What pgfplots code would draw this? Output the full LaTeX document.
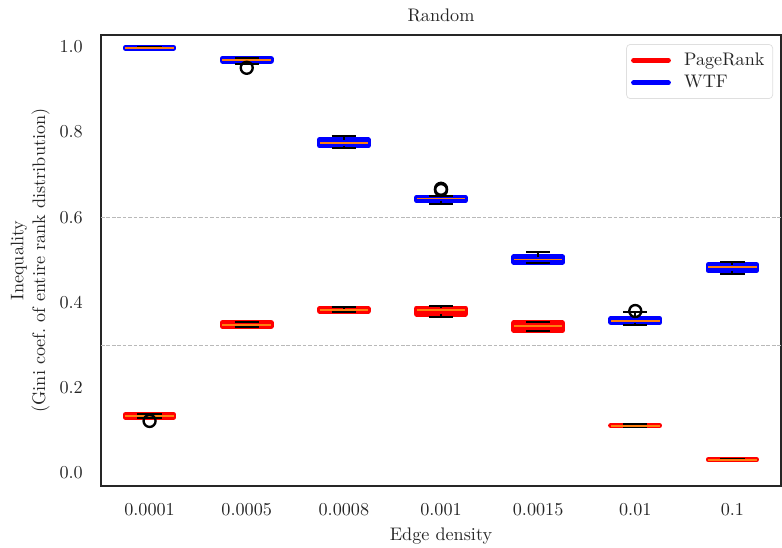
\documentclass[border=0pt]{standalone}
\usepackage{pgfplots}
\pgfplotsset{compat=1.18}
\usepgfplotslibrary{statistics}
\definecolor{axgray}{RGB}{38,38,38}
\definecolor{medorange}{RGB}{255,127,14}
\definecolor{prred}{RGB}{255,0,0}
\definecolor{wtfblue}{RGB}{0,0,255}
\pgfplotsset{
  % pass 1: the filled box only
  bxa/.style n args={7}{
    mark=none,
    boxplot prepared={draw direction=y, draw position=#2, lower whisker=#3, lower quartile=#4,
      median=#5, upper quartile=#6, upper whisker=#7,
      box extend=0.5, whisker extend=0.25,
      every box/.style={draw=#1, fill=#1, line width=2.8pt, line join=round},
      every whisker/.style={draw=none},
      every median/.style={draw=none}},
  },
  % pass 2: whiskers, median, outliers on top
  bxb/.style n args={6}{
    mark=o, mark size=3.3pt, mark options={draw=black, line width=1.3pt, fill=none},
    boxplot prepared={draw direction=y, draw position=#1, lower whisker=#2, lower quartile=#3,
      median=#4, upper quartile=#5, upper whisker=#6,
      box extend=0.5, whisker extend=0.25,
      every box/.style={draw=none, fill=none},
      every whisker/.style={draw=black, line width=1.1pt},
      every median/.style={draw=medorange, line width=1pt}},
  },
}
\begin{document}
\begin{tikzpicture}
\begin{axis}[
  scale only axis,
  width=374pt, height=248pt,
  xmin=0.5, xmax=7.5,
  ymin=-0.0305, ymax=1.028,
  axis line style={draw=axgray, line width=1.1pt},
  major tick length=0pt,
  xtick={1,2,3,4,5,6,7},
  xticklabels={0.0001,0.0005,0.0008,0.001,0.0015,0.01,0.1},
  ytick={0,0.2,0.4,0.6,0.8,1.0},
  yticklabel style={xshift=-6.5pt, /pgf/number format/.cd, fixed, fixed zerofill, precision=1},
  xticklabel style={yshift=-6pt},
  tick label style={text=axgray},
  extra y ticks={0.3,0.6},
  extra y tick labels={},
  extra y tick style={grid=major, major grid style={gray!55, line width=0.5pt, dash pattern=on 2pt off 1pt}},
  title={Random},
  title style={text=axgray, yshift=-2.2pt},
  xlabel={Edge density},
  ylabel={Inequality\\(Gini coef.\ of entire rank distribution)},
  ylabel style={align=center, text=axgray, yshift=-1.5pt},
  xlabel style={text=axgray},
  legend style={at={(1,1)}, anchor=north east, xshift=-4.4pt, yshift=-5pt,
    draw=gray!25, rounded corners=2pt, text=axgray, row sep=0pt, inner sep=2.5pt},
  legend cell align=left,
]
\addlegendimage{legend image code/.code={\draw[prred, line width=2.8pt, line cap=round] (0cm,0cm) -- (0.67cm,0cm); \path (0.67cm+6.5pt,0cm);}}
\addlegendentry{PageRank}
\addlegendimage{legend image code/.code={\draw[wtfblue, line width=2.8pt, line cap=round] (0cm,0cm) -- (0.67cm,0cm); \path (0.67cm+6.5pt,0cm);}}
\addlegendentry{WTF}
% PageRank boxes
\addplot[bxa={prred}{1}{0.129}{0.131}{0.134}{0.137}{0.138}] coordinates {};
\addplot[bxa={prred}{2}{0.342}{0.344}{0.348}{0.353}{0.355}] coordinates {};
\addplot[bxa={prred}{3}{0.377}{0.380}{0.382}{0.385}{0.390}] coordinates {};
\addplot[bxa={prred}{4}{0.365}{0.373}{0.383}{0.387}{0.391}] coordinates {};
\addplot[bxa={prred}{5}{0.332}{0.335}{0.344}{0.352}{0.354}] coordinates {};
\addplot[bxa={prred}{6}{0.1075}{0.1105}{0.111}{0.112}{0.116}] coordinates {};
\addplot[bxa={prred}{7}{0.0298}{0.0305}{0.0312}{0.0318}{0.0336}] coordinates {};
% PageRank whiskers, medians, outliers
\addplot[bxb={1}{0.129}{0.131}{0.134}{0.137}{0.138}] table[row sep=\\, y index=0] {data\\ 0.122\\};
\addplot[bxb={2}{0.342}{0.344}{0.348}{0.353}{0.355}] coordinates {};
\addplot[bxb={3}{0.377}{0.380}{0.382}{0.385}{0.390}] coordinates {};
\addplot[bxb={4}{0.365}{0.373}{0.383}{0.387}{0.391}] coordinates {};
\addplot[bxb={5}{0.332}{0.335}{0.344}{0.352}{0.354}] coordinates {};
\addplot[bxb={6}{0.1075}{0.1105}{0.111}{0.112}{0.116}] coordinates {};
\addplot[bxb={7}{0.0298}{0.0305}{0.0312}{0.0318}{0.0336}] coordinates {};
% WTF boxes
\addplot[bxa={wtfblue}{1}{0.9965}{0.997}{0.998}{0.999}{0.9995}] coordinates {};
\addplot[bxa={wtfblue}{2}{0.959}{0.967}{0.970}{0.973}{0.975}] coordinates {};
\addplot[bxa={wtfblue}{3}{0.762}{0.768}{0.775}{0.782}{0.792}] coordinates {};
\addplot[bxa={wtfblue}{4}{0.632}{0.639}{0.644}{0.647}{0.650}] coordinates {};
\addplot[bxa={wtfblue}{5}{0.492}{0.495}{0.501}{0.507}{0.518}] coordinates {};
\addplot[bxa={wtfblue}{6}{0.348}{0.353}{0.357}{0.363}{0.377}] coordinates {};
\addplot[bxa={wtfblue}{7}{0.466}{0.475}{0.484}{0.489}{0.494}] coordinates {};
% WTF whiskers, medians, outliers
\addplot[bxb={1}{0.9965}{0.997}{0.998}{0.999}{0.9995}] coordinates {};
\addplot[bxb={2}{0.959}{0.967}{0.970}{0.973}{0.975}] table[row sep=\\, y index=0] {data\\ 0.951\\};
\addplot[bxb={3}{0.762}{0.768}{0.775}{0.782}{0.792}] coordinates {};
\addplot[bxb={4}{0.632}{0.639}{0.644}{0.647}{0.650}] table[row sep=\\, y index=0] {data\\ 0.664\\ 0.667\\};
\addplot[bxb={5}{0.492}{0.495}{0.501}{0.507}{0.518}] coordinates {};
\addplot[bxb={6}{0.348}{0.353}{0.357}{0.363}{0.377}] table[row sep=\\, y index=0] {data\\ 0.380\\};
\addplot[bxb={7}{0.466}{0.475}{0.484}{0.489}{0.494}] coordinates {};
\end{axis}
\pgfresetboundingbox
\path ([xshift=-55.55pt, yshift=-34.1pt]current axis.south west) rectangle ([xshift=0.55pt, yshift=19.25pt]current axis.north east);
\end{tikzpicture}
\end{document}
